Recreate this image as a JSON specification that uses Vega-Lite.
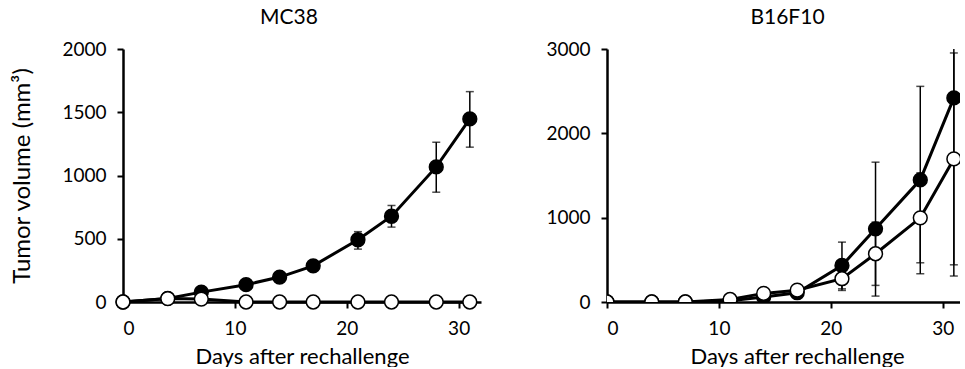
{
  "$schema": "https://vega.github.io/schema/vega-lite/v6.json",
  "padding": {"left": 10, "top": 7, "right": 0, "bottom": 0},
  "background": "white",
  "config": {
    "font": "Lato",
    "view": {"stroke": null},
    "axis": {
      "grid": false,
      "domainColor": "black",
      "domainWidth": 2.5,
      "tickColor": "black",
      "tickWidth": 2,
      "tickSize": 6,
      "labelColor": "black",
      "labelFont": "Lato",
      "labelFontSize": 19,
      "titleColor": "black",
      "titleFont": "Lato",
      "titleFontSize": 22,
      "titleFontWeight": "normal",
      "format": "d"
    },
    "title": {"font": "Lato", "fontSize": 21, "fontWeight": "normal", "color": "black", "frame": "group", "anchor": "middle", "offset": 12}
  },
  "datasets": {
    "tumor": [
      {"panel": "MC38", "group": "filled", "day": 0, "mean": 0, "lo": 0, "hi": 0},
      {"panel": "MC38", "group": "filled", "day": 4, "mean": 28, "lo": 18, "hi": 38},
      {"panel": "MC38", "group": "filled", "day": 7, "mean": 78, "lo": 62, "hi": 94},
      {"panel": "MC38", "group": "filled", "day": 11, "mean": 137, "lo": 117, "hi": 157},
      {"panel": "MC38", "group": "filled", "day": 14, "mean": 197, "lo": 177, "hi": 217},
      {"panel": "MC38", "group": "filled", "day": 17, "mean": 286, "lo": 262, "hi": 310},
      {"panel": "MC38", "group": "filled", "day": 21, "mean": 492, "lo": 418, "hi": 556},
      {"panel": "MC38", "group": "filled", "day": 24, "mean": 678, "lo": 592, "hi": 763},
      {"panel": "MC38", "group": "filled", "day": 28, "mean": 1068, "lo": 868, "hi": 1263},
      {"panel": "MC38", "group": "filled", "day": 31, "mean": 1447, "lo": 1224, "hi": 1663},
      {"panel": "MC38", "group": "open", "day": 0, "mean": 0, "lo": 0, "hi": 0},
      {"panel": "MC38", "group": "open", "day": 4, "mean": 27, "lo": 20, "hi": 34},
      {"panel": "MC38", "group": "open", "day": 7, "mean": 23, "lo": 15, "hi": 31},
      {"panel": "MC38", "group": "open", "day": 11, "mean": 0, "lo": 0, "hi": 0},
      {"panel": "MC38", "group": "open", "day": 14, "mean": 0, "lo": 0, "hi": 0},
      {"panel": "MC38", "group": "open", "day": 17, "mean": 0, "lo": 0, "hi": 0},
      {"panel": "MC38", "group": "open", "day": 21, "mean": 0, "lo": 0, "hi": 0},
      {"panel": "MC38", "group": "open", "day": 24, "mean": 0, "lo": 0, "hi": 0},
      {"panel": "MC38", "group": "open", "day": 28, "mean": 0, "lo": 0, "hi": 0},
      {"panel": "MC38", "group": "open", "day": 31, "mean": 0, "lo": 0, "hi": 0},
      {"panel": "B16F10", "group": "filled", "day": 0, "mean": 0, "lo": 0, "hi": 0},
      {"panel": "B16F10", "group": "filled", "day": 4, "mean": 0, "lo": 0, "hi": 0},
      {"panel": "B16F10", "group": "filled", "day": 7, "mean": 0, "lo": 0, "hi": 0},
      {"panel": "B16F10", "group": "filled", "day": 11, "mean": 15, "lo": 5, "hi": 25},
      {"panel": "B16F10", "group": "filled", "day": 14, "mean": 60, "lo": 30, "hi": 90},
      {"panel": "B16F10", "group": "filled", "day": 17, "mean": 110, "lo": 60, "hi": 160},
      {"panel": "B16F10", "group": "filled", "day": 21, "mean": 433, "lo": 156, "hi": 710},
      {"panel": "B16F10", "group": "filled", "day": 24, "mean": 868, "lo": 70, "hi": 1658},
      {"panel": "B16F10", "group": "filled", "day": 28, "mean": 1448, "lo": 335, "hi": 2557},
      {"panel": "B16F10", "group": "filled", "day": 31, "mean": 2420, "lo": 308, "hi": 4532},
      {"panel": "B16F10", "group": "open", "day": 0, "mean": 0, "lo": 0, "hi": 0},
      {"panel": "B16F10", "group": "open", "day": 4, "mean": 0, "lo": 0, "hi": 0},
      {"panel": "B16F10", "group": "open", "day": 7, "mean": 0, "lo": 0, "hi": 0},
      {"panel": "B16F10", "group": "open", "day": 11, "mean": 30, "lo": 15, "hi": 45},
      {"panel": "B16F10", "group": "open", "day": 14, "mean": 102, "lo": 70, "hi": 134},
      {"panel": "B16F10", "group": "open", "day": 17, "mean": 140, "lo": 100, "hi": 180},
      {"panel": "B16F10", "group": "open", "day": 21, "mean": 276, "lo": 137, "hi": 415},
      {"panel": "B16F10", "group": "open", "day": 24, "mean": 572, "lo": 197, "hi": 947},
      {"panel": "B16F10", "group": "open", "day": 28, "mean": 998, "lo": 465, "hi": 1531},
      {"panel": "B16F10", "group": "open", "day": 31, "mean": 1697, "lo": 441, "hi": 2953}
    ]
  },
  "hconcat": [
    {
      "width": 358,
      "height": 253,
      "title": {"text": "MC38", "dx": -13},
      "data": {"name": "tumor"},
      "transform": [{"filter": "datum.panel === 'MC38'"}],
      "encoding": {
        "x": {"field": "day", "type": "quantitative", "scale": {"domain": [0, 32], "nice": false},
              "axis": {"values": [0, 10, 20, 30], "title": "Days after rechallenge", "labelPadding": 11, "titlePadding": 8}}
      },
      "layer": [
        {"mark": {"type": "rule", "color": "black", "strokeWidth": 1.5, "clip": true},
         "encoding": {"y": {"field": "lo", "type": "quantitative", "scale": {"domain": [0, 2000], "nice": false},
                            "axis": {"values": [0, 500, 1000, 1500, 2000], "title": "Tumor volume (mm³)", "titleFontSize": 24, "labelPadding": 11, "titlePadding": 27}},
                      "y2": {"field": "hi"}}},
        {"mark": {"type": "tick", "orient": "horizontal", "color": "black", "size": 8, "thickness": 1.5, "clip": true},
         "encoding": {"y": {"field": "lo", "type": "quantitative"}}},
        {"mark": {"type": "tick", "orient": "horizontal", "color": "black", "size": 8, "thickness": 1.5, "clip": true},
         "encoding": {"y": {"field": "hi", "type": "quantitative"}}},
        {"mark": {"type": "line", "color": "black", "strokeWidth": 3},
         "encoding": {"y": {"field": "mean", "type": "quantitative"}, "detail": {"field": "group"}}},
        {"transform": [{"filter": "datum.group === 'filled'"}],
         "mark": {"type": "point", "shape": "circle", "filled": true, "fill": "black", "stroke": "black", "strokeWidth": 1.5, "size": 190, "opacity": 1},
         "encoding": {"y": {"field": "mean", "type": "quantitative"}}},
        {"transform": [{"filter": "datum.group === 'open'"}],
         "mark": {"type": "point", "shape": "circle", "filled": true, "fill": "white", "stroke": "black", "strokeWidth": 1.5, "size": 190, "opacity": 1},
         "encoding": {"y": {"field": "mean", "type": "quantitative"}}}
      ]
    },
    {
      "width": 353,
      "height": 253,
      "title": {"text": "B16F10", "dx": 4},
      "data": {"name": "tumor"},
      "transform": [{"filter": "datum.panel === 'B16F10'"}],
      "encoding": {
        "x": {"field": "day", "type": "quantitative", "scale": {"domain": [0, 31.55], "nice": false},
              "axis": {"values": [0, 10, 20, 30], "title": "Days after rechallenge", "labelPadding": 11, "titlePadding": 8, "titleX": 190}}
      },
      "layer": [
        {"mark": {"type": "rule", "color": "black", "strokeWidth": 1.5, "clip": true},
         "encoding": {"y": {"field": "lo", "type": "quantitative", "scale": {"domain": [0, 3000], "nice": false},
                            "axis": {"values": [0, 1000, 2000, 3000], "title": null, "labelPadding": 11}},
                      "y2": {"field": "hi"}}},
        {"mark": {"type": "tick", "orient": "horizontal", "color": "black", "size": 8, "thickness": 1.5, "clip": true},
         "encoding": {"y": {"field": "lo", "type": "quantitative"}}},
        {"mark": {"type": "tick", "orient": "horizontal", "color": "black", "size": 8, "thickness": 1.5, "clip": true},
         "encoding": {"y": {"field": "hi", "type": "quantitative"}}},
        {"mark": {"type": "line", "color": "black", "strokeWidth": 3, "clip": true},
         "encoding": {"y": {"field": "mean", "type": "quantitative"}, "detail": {"field": "group"}}},
        {"transform": [{"filter": "datum.group === 'filled'"}],
         "mark": {"type": "point", "shape": "circle", "filled": true, "fill": "black", "stroke": "black", "strokeWidth": 1.5, "size": 190, "opacity": 1, "clip": true},
         "encoding": {"y": {"field": "mean", "type": "quantitative"}}},
        {"transform": [{"filter": "datum.group === 'open'"}],
         "mark": {"type": "point", "shape": "circle", "filled": true, "fill": "white", "stroke": "black", "strokeWidth": 1.5, "size": 190, "opacity": 1, "clip": true},
         "encoding": {"y": {"field": "mean", "type": "quantitative"}}}
      ]
    }
  ],
  "spacing": 64
}
